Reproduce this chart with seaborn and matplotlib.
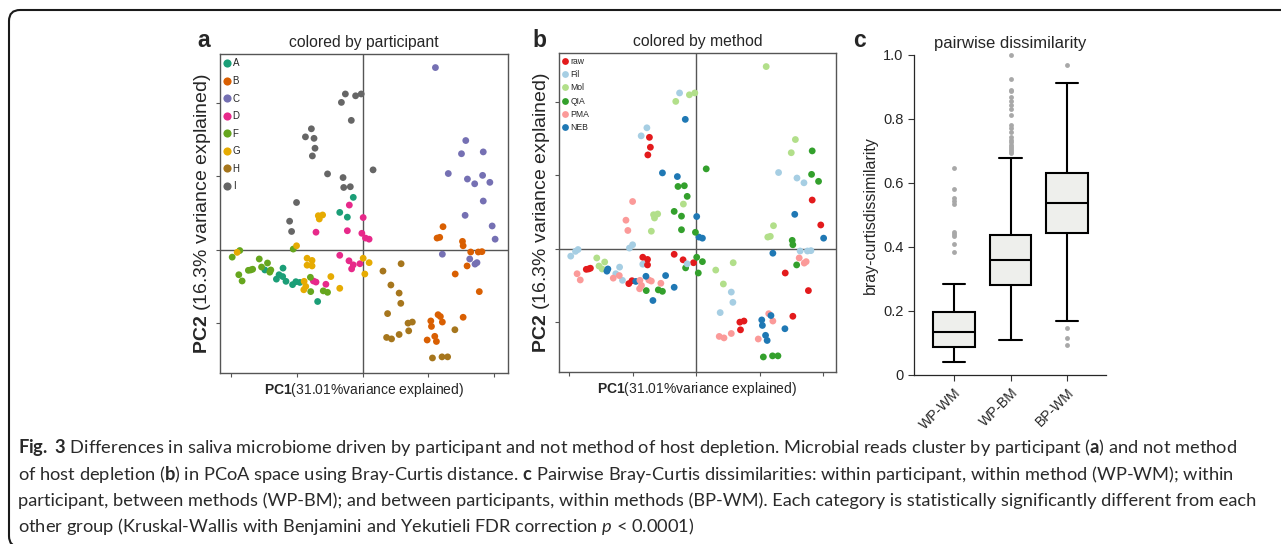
import matplotlib
matplotlib.use("Agg")
import matplotlib.pyplot as plt
from matplotlib import font_manager
from matplotlib.patches import FancyBboxPatch
from matplotlib.transforms import IdentityTransform
import pandas as pd
import seaborn as sns

pc1_A = [-0.028, -0.069, -0.046, -0.241, -0.253, -0.232, -0.296, -0.242, -0.261, -0.212, -0.202, -0.190, -0.136]
pc2_A = [0.143, 0.102, 0.089, -0.050, -0.068, -0.086, -0.055, -0.073, -0.080, -0.095, -0.087, -0.089, -0.141]
meth_A = ["QIA", "QIA", "QIA", "Fil", "Fil", "Fil", "Mol", "PMA", "PMA", "raw", "raw", "NEB", "NEB"]

pc1_B = [0.244, 0.226, 0.234, 0.303, 0.305, 0.317, 0.328, 0.351, 0.362, 0.281,
         0.354, 0.305, 0.229, 0.242, 0.196, 0.236, 0.207, 0.209, 0.219, 0.224]
pc2_B = [0.063, 0.032, 0.034, 0.023, 0.011, -0.044, -0.006, -0.006, -0.005, -0.066,
         -0.114, -0.184, -0.177, -0.197, -0.246, -0.182, -0.194, -0.209, -0.236, -0.250]
meth_B = ["Mol", "Mol", "Mol", "QIA", "QIA", "QIA", "Fil", "Fil", "Fil", "raw",
          "raw", "raw", "PMA", "PMA", "PMA", "NEB", "NEB", "NEB", "NEB", "NEB"]

pc1_C = [0.221, 0.313, 0.300, 0.366, 0.260, 0.318, 0.340, 0.364, 0.386, 0.366,
         0.311, 0.393, 0.402, 0.242, 0.325, 0.341, 0.347]
pc2_C = [0.497, 0.298, 0.262, 0.267, 0.208, 0.193, 0.180, 0.203, 0.184, 0.133,
         0.094, 0.065, 0.029, -0.012, -0.025, -0.039, -0.035]
meth_C = ["Mol", "Mol", "Mol", "QIA", "Fil", "Fil", "Fil", "QIA", "QIA", "raw",
          "NEB", "raw", "NEB", "NEB", "PMA", "PMA", "PMA"]

pc1_D = [-0.040, -0.141, 0.002, 0.009, 0.020, -0.046, -0.002, -0.033, -0.069, -0.041,
         -0.008, -0.028, -0.149, -0.141, -0.111]
pc2_D = [0.122, 0.048, 0.088, 0.032, 0.029, 0.052, 0.045, -0.052, -0.015, -0.030,
         -0.038, -0.041, -0.085, -0.088, -0.094]
meth_D = ["Mol", "Mol", "NEB", "NEB", "NEB", "QIA", "QIA", "QIA", "raw", "raw",
          "raw", "Fil", "PMA", "PMA", "PMA"]

pc1_F = [-0.395, -0.372, -0.210, -0.313, -0.306, -0.288, -0.346, -0.339, -0.333, -0.375,
         -0.365, -0.281, -0.278, -0.158, -0.157, -0.119, -0.106]
pc2_F = [-0.020, -0.002, 0.002, -0.025, -0.047, -0.036, -0.056, -0.055, -0.053, -0.068,
         -0.085, -0.061, -0.055, -0.075, -0.114, -0.112, -0.116]
meth_F = ["Fil", "Fil", "Fil", "Mol", "Mol", "Mol", "raw", "raw", "raw", "PMA",
          "PMA", "NEB", "NEB", "NEB", "QIA", "QIA", "QIA"]

pc1_G = [-0.134, -0.131, -0.121, -0.380, -0.200, -0.168, -0.168, -0.153, -0.153, -0.177,
         -0.172, -0.178, 0.002, 0.020, 0.007, -0.096, -0.069]
pc2_G = [0.093, 0.084, 0.095, -0.007, 0.011, -0.042, -0.023, -0.029, -0.044, -0.086,
         -0.100, -0.109, -0.023, -0.035, -0.066, -0.073, -0.105]
meth_G = ["Mol", "Mol", "Mol", "Fil", "Fil", "Fil", "raw", "raw", "raw", "PMA",
          "PMA", "PMA", "QIA", "QIA", "QIA", "NEB", "NEB"]

pc1_H = [0.117, 0.062, 0.086, 0.111, 0.116, 0.076, 0.138, 0.151, 0.140, 0.073,
         0.088, 0.111, 0.280, 0.212, 0.241, 0.258]
pc2_H = [-0.038, -0.058, -0.096, -0.118, -0.146, -0.174, -0.200, -0.197, -0.221, -0.239,
         -0.243, -0.231, -0.218, -0.295, -0.292, -0.292]
meth_H = ["Mol", "Mol", "Mol", "Fil", "Fil", "Fil", "raw", "raw", "raw", "PMA",
          "PMA", "PMA", "NEB", "QIA", "QIA", "QIA"]

pc1_I = [-0.052, -0.021, -0.004, -0.064, -0.034, -0.155, -0.173, -0.147, -0.144, -0.152,
         -0.106, -0.059, -0.057, -0.037, 0.032, -0.200, -0.221, -0.215]
pc2_I = [0.425, 0.420, 0.425, 0.402, 0.353, 0.330, 0.308, 0.304, 0.277, 0.256,
         0.207, 0.197, 0.170, 0.172, 0.218, 0.129, 0.078, 0.050]
meth_I = ["Fil", "Mol", "Mol", "Mol", "NEB", "Fil", "Fil", "raw", "raw", "raw",
          "NEB", "NEB", "QIA", "QIA", "QIA", "PMA", "PMA", "PMA"]

participants = ["A", "B", "C", "D", "F", "G", "H", "I"]
participant_colors = ["#1b9e77", "#d95f02", "#7570b3", "#e7298a",
                      "#66a61e", "#e6ab02", "#a6761d", "#666666"]
methods = ["raw", "Fil", "Mol", "QIA", "PMA", "NEB"]
method_colors = ["#e31a1c", "#a6cee3", "#b2df8a", "#33a02c", "#fb9a99", "#1f78b4"]

# panel c: box statistics
box_labels = ["WP-WM", "WP-BM", "BP-WM"]
box_low = [0.042, 0.109, 0.169]
box_q1 = [0.086, 0.280, 0.443]
box_med = [0.134, 0.358, 0.536]
box_q3 = [0.196, 0.438, 0.632]
box_high = [0.285, 0.677, 0.911]
fliers_wpwm = [0.383, 0.409, 0.435, 0.442, 0.447, 0.535, 0.543, 0.552, 0.580, 0.648]
fliers_wpbm = [0.693, 0.699, 0.705, 0.713, 0.720, 0.728, 0.735, 0.745, 0.760, 0.771,
               0.781, 0.812, 0.830, 0.845, 0.856, 0.870, 0.887, 0.892, 0.926, 1.000]
fliers_bpwm = [0.094, 0.115, 0.146, 0.968]

caption = [
    r"$\bf{Fig.\ 3}$ Differences in saliva microbiome driven by participant and not method of host depletion. "
    r"Microbial reads cluster by participant ($\bf{a}$) and not method",
    r"of host depletion ($\bf{b}$) in PCoA space using Bray-Curtis distance. $\bf{c}$ Pairwise Bray-Curtis "
    r"dissimilarities: within participant, within method (WP-WM); within",
    r"participant, between methods (WP-BM); and between participants, within methods (BP-WM). "
    r"Each category is statistically significantly different from each",
    r"other group (Kruskal-Wallis with Benjamini and Yekutieli FDR correction $p$ < 0.0001)",
]
# right end (px) of each full caption line in the reference
caption_right = [1265, 1237, 1253]

# ---- build the table ----
rows = []
groups = {"A": (pc1_A, pc2_A, meth_A), "B": (pc1_B, pc2_B, meth_B), "C": (pc1_C, pc2_C, meth_C),
          "D": (pc1_D, pc2_D, meth_D), "F": (pc1_F, pc2_F, meth_F), "G": (pc1_G, pc2_G, meth_G),
          "H": (pc1_H, pc2_H, meth_H), "I": (pc1_I, pc2_I, meth_I)}
for p, (xs, ys, ms) in groups.items():
    for x, y, m in zip(xs, ys, ms):
        rows.append({"PC1": x, "PC2": y, "participant": p, "method": m})
df = pd.DataFrame(rows)

# ---- style ----
sns.set_style("ticks")
installed = {f.name for f in font_manager.fontManager.ttflist}
cap_font = "Liberation Sans Narrow" if "Liberation Sans Narrow" in installed else "Lato"
plt.rcParams["font.family"] = ["Liberation Sans", "DejaVu Sans"]
plt.rcParams["mathtext.fontset"] = "custom"
plt.rcParams["mathtext.rm"] = cap_font
plt.rcParams["mathtext.sf"] = "Liberation Sans:bold"
plt.rcParams["mathtext.bf"] = cap_font + ":bold"
plt.rcParams["mathtext.it"] = cap_font + ":italic"

W, H = 1281, 544
fig = plt.figure(figsize=(W / 100, H / 100), dpi=100)


def add_axes_px(left, top, right, bottom):
    return fig.add_axes([left / W, 1 - bottom / H, (right - left) / W, (bottom - top) / H])


def pcoa_panel(ax, hue, order, colors, title, legend_size, spacing, mscale):
    sns.scatterplot(data=df, x="PC1", y="PC2", hue=hue, hue_order=order,
                    palette=dict(zip(order, colors)), s=24, linewidth=0, ax=ax)
    ax.axhline(0, color="#555555", lw=1.0, zorder=0)
    ax.axvline(0, color="#555555", lw=1.0, zorder=0)
    ax.set_xlim(-0.432, 0.441)
    ax.set_ylim(-0.336, 0.534)
    ax.set_xticks([-0.4, -0.2, 0, 0.2, 0.4])
    ax.set_yticks([-0.2, 0, 0.2, 0.4])
    ax.tick_params(length=3, width=0.8, color="#555555", labelbottom=False, labelleft=False)
    for sp in ax.spines.values():
        sp.set_color("#555555")
        sp.set_linewidth(1.0)
    ax.set_xlabel(r"$\mathsf{PC1}$(31.01%variance explained)", fontsize=10, labelpad=3)
    ax.set_ylabel(r"$\mathsf{PC2}$ (16.3% variance explained)", fontsize=14, labelpad=2)
    ax.set_title(title, fontsize=11.3, pad=5)
    sns.move_legend(ax, "upper left", title=None, frameon=False, fontsize=legend_size,
                    markerscale=mscale, handlelength=0.5, handletextpad=0.35,
                    labelspacing=spacing, borderaxespad=0.25, borderpad=0.2)


ax_a = add_axes_px(220, 54, 508, 373)
pcoa_panel(ax_a, "participant", participants, participant_colors,
           "colored by participant", 7, 0.78, 1.2)

ax_b = add_axes_px(559, 53, 836, 372)
pcoa_panel(ax_b, "method", methods, method_colors,
           "colored by method", 6.2, 0.5, 1.0)

# ---- panel c ----
ax_c = add_axes_px(914, 55, 1106, 375)
stats = []
for i, fl in enumerate([fliers_wpwm, fliers_wpbm, fliers_bpwm]):
    stats.append({"label": box_labels[i], "whislo": box_low[i], "q1": box_q1[i],
                  "med": box_med[i], "q3": box_q3[i], "whishi": box_high[i], "fliers": fl})
lw = 1.5
art = ax_c.bxp(stats, positions=[0, 1, 2], widths=0.73, capwidths=0.4, patch_artist=True,
               boxprops=dict(facecolor="#eeefec", edgecolor="black", linewidth=lw),
               medianprops=dict(color="black", linewidth=lw),
               whiskerprops=dict(color="black", linewidth=lw),
               capprops=dict(color="black", linewidth=lw),
               flierprops=dict(marker="o", markersize=3.5, markerfacecolor="#a8a8a8",
                               markeredgecolor="none"))
for f in art["fliers"]:
    f.set_clip_on(False)
ax_c.set_xlim(-0.71, 2.69)
ax_c.set_ylim(0, 1.0)
ax_c.set_yticks([0, 0.2, 0.4, 0.6, 0.8, 1.0])
ax_c.set_yticklabels(["0", "0.2", "0.4", "0.6", "0.8", "1.0"], fontsize=10.5)
ax_c.set_xticks([0, 1, 2])
ax_c.set_xticklabels(box_labels, rotation=45, ha="right", rotation_mode="anchor", fontsize=10)
ax_c.tick_params(length=4, width=0.8, color="#333333")
sns.despine(ax=ax_c)
ax_c.spines["left"].set_linewidth(0.9)
ax_c.spines["bottom"].set_linewidth(0.9)
ax_c.set_ylabel("bray-curtisdissimilarity", fontsize=11.5, labelpad=4)
ax_c.set_title("pairwise dissimilarity", fontsize=12, pad=5)

# ---- panel letters ----
for x, letter in [(197, "a"), (532, "b"), (853, "c")]:
    fig.text(x / W, 1 - 47 / H, letter, fontsize=16.5, fontweight="bold", va="baseline")

# ---- caption, sized so the full lines end where the reference lines end ----
cap_color = "#2a2a2a"
renderer = fig.canvas.get_renderer()
cap_size = 20.0
for line, right in zip(caption[:3], caption_right):
    probe = fig.text(18 / W, 0.1, line, fontsize=12, family=cap_font, va="baseline")
    cap_size = min(cap_size, 12 * (right - 18) / probe.get_window_extent(renderer=renderer).width)
    probe.remove()
for line, y in zip(caption, [453, 480, 506, 532]):
    fig.text(18 / W, 1 - y / H, line, fontsize=cap_size, family=cap_font,
             color=cap_color, va="baseline")

# ---- rounded frame ----
frame = FancyBboxPatch((9, -3), 1320, 537, boxstyle="round,pad=0,rounding_size=11",
                       transform=IdentityTransform(), fill=False, lw=1.5, ec="#1a1a1a")
fig.add_artist(frame)

fig.savefig("out.png", dpi=100)
